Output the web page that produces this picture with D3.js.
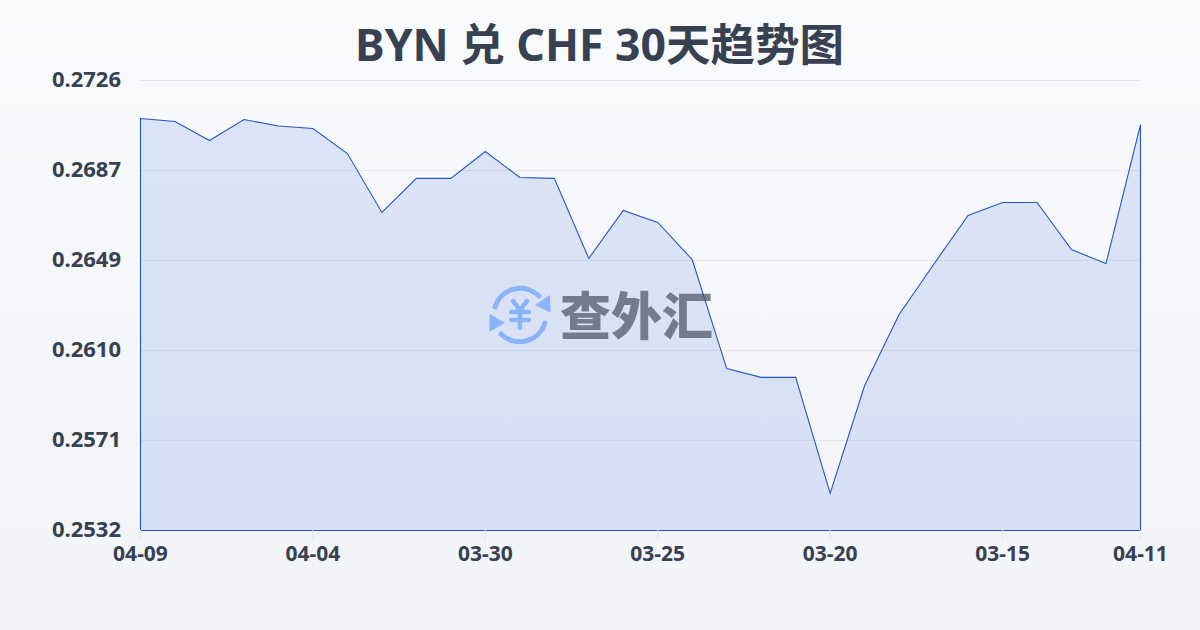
<!DOCTYPE html>
<html><head><meta charset="utf-8">
<script src="https://cdn.jsdelivr.net/npm/d3@7/dist/d3.min.js"></script>
<style>html,body{margin:0;padding:0;background:#f6f7fa}svg{display:block}</style>
</head><body><svg id="c" width="1200" height="630"></svg>
<script>
const categories=["04-09","04-08","04-07","04-06","04-05","04-04","04-03","04-02","04-01","03-31","03-30","03-29","03-28","03-27","03-26","03-25","03-24","03-23","03-22","03-21","03-20","03-19","03-18","03-17","03-16","03-15","03-14","03-13","03-12","04-11"];
const values=[0.27096,0.27083,0.27001,0.27092,0.27064,0.27053,0.26945,0.26691,0.26838,0.26838,0.26954,0.26842,0.26838,0.26493,0.26700,0.26648,0.26488,0.26018,0.25980,0.25980,0.25480,0.25945,0.26251,0.26467,0.26678,0.26734,0.26734,0.26531,0.26471,0.27070];
const yTicks=[0.2532,0.2571,0.2610,0.2649,0.2687,0.2726];
const xTickLabels=["04-09","04-04","03-30","03-25","03-20","03-15","04-11"];
const titleText="BYN 兑 CHF 30天趋势图";
const watermarkText="查外汇";

const svg=d3.select("#c");
const defs=svg.append("defs");
const bg=defs.append("linearGradient").attr("id","bg").attr("x1",0).attr("y1",0).attr("x2",0).attr("y2",1);
bg.append("stop").attr("offset",0).attr("stop-color","#f9fafc");
bg.append("stop").attr("offset",1).attr("stop-color","#f2f4f7");
svg.append("rect").attr("width",1200).attr("height",630).attr("fill","url(#bg)");

const x=d3.scalePoint().domain(d3.range(categories.length)).range([140.5,1140.5]);
const yPos=d3.scaleLinear().domain([0.2532,0.2726]).range([530.5,80.5]);
const yGrid=d3.scalePoint().domain(yTicks).range([530,80]);

svg.append("text").attr("x",599.5).attr("y",61).attr("text-anchor","middle")
 .attr("font-family","'Noto Sans','Noto Sans CJK SC',sans-serif").attr("font-weight",700).attr("font-size",44.5).attr("fill","#374151").text(titleText);

const grid=svg.append("g");
grid.selectAll("line").data(yTicks).join("line")
 .attr("x1",140).attr("x2",1140).attr("y1",d=>yGrid(d)+.5).attr("y2",d=>yGrid(d)+.5)
 .attr("stroke","#e5e7eb").attr("stroke-width",1);

const area=d3.area().x((d,i)=>x(i)).y0(530.5).y1(d=>yPos(d));
svg.append("path").datum(values).attr("d",area).attr("fill","#2f66e0").attr("fill-opacity",.14)
 .attr("stroke","#2456c9").attr("stroke-width",1.1);

const yAxis=svg.append("g");
yAxis.selectAll("text").data(yTicks).join("text")
 .attr("x",121).attr("y",d=>yGrid(d)+7).attr("text-anchor","end")
 .attr("font-family","'Noto Sans',sans-serif").attr("font-weight",700).attr("font-size",22).attr("fill","#374151")
 .text(d=>d.toFixed(4));

const xIdx=[0,5,10,15,20,25,29];
const xAxis=svg.append("g");
xAxis.selectAll("line").data(xIdx).join("line")
 .attr("x1",i=>x(i)).attr("x2",i=>x(i)).attr("y1",530).attr("y2",540).attr("stroke","#e5e7eb");
xAxis.selectAll("text").data(xIdx).join("text")
 .attr("x",i=>x(i)).attr("y",560.5).attr("text-anchor","middle")
 .attr("font-family","'Noto Sans',sans-serif").attr("font-weight",700).attr("font-size",21).attr("fill","#374151")
 .text((i,k)=>xTickLabels[k]);

const wm=svg.append("g");
const blue="#8ab4f8";
const ic=wm.append("g").attr("transform","translate(520,315)").attr("fill","none").attr("stroke",blue).attr("stroke-linecap","round");
ic.append("path").attr("d","M-25,-8 A26.5,26.5 0 0 1 19,-19").attr("stroke-width",5);
ic.append("path").attr("d","M25,8 A26.5,26.5 0 0 1 -19,19").attr("stroke-width",5);
ic.append("path").attr("d","M29.5,-19 L30,-3 L16,-10 Z").attr("fill",blue).attr("stroke",blue).attr("stroke-width",1).attr("stroke-linejoin","round");
ic.append("path").attr("d","M-30,0 L-30,16 L-16,8 Z").attr("fill",blue).attr("stroke",blue).attr("stroke-width",1).attr("stroke-linejoin","round");
ic.append("path").attr("d","M-7,-14 L0,-5 L7,-14 M-9,-3 H9 M-9,5 H9 M0,-5 V13").attr("stroke-width",4.5);
wm.append("text").attr("x",560).attr("y",335).attr("font-family","'Noto Sans CJK SC',sans-serif").attr("font-weight",900).attr("font-size",51).attr("fill","#4b5563").attr("fill-opacity",.72).text(watermarkText);
</script></body></html>
